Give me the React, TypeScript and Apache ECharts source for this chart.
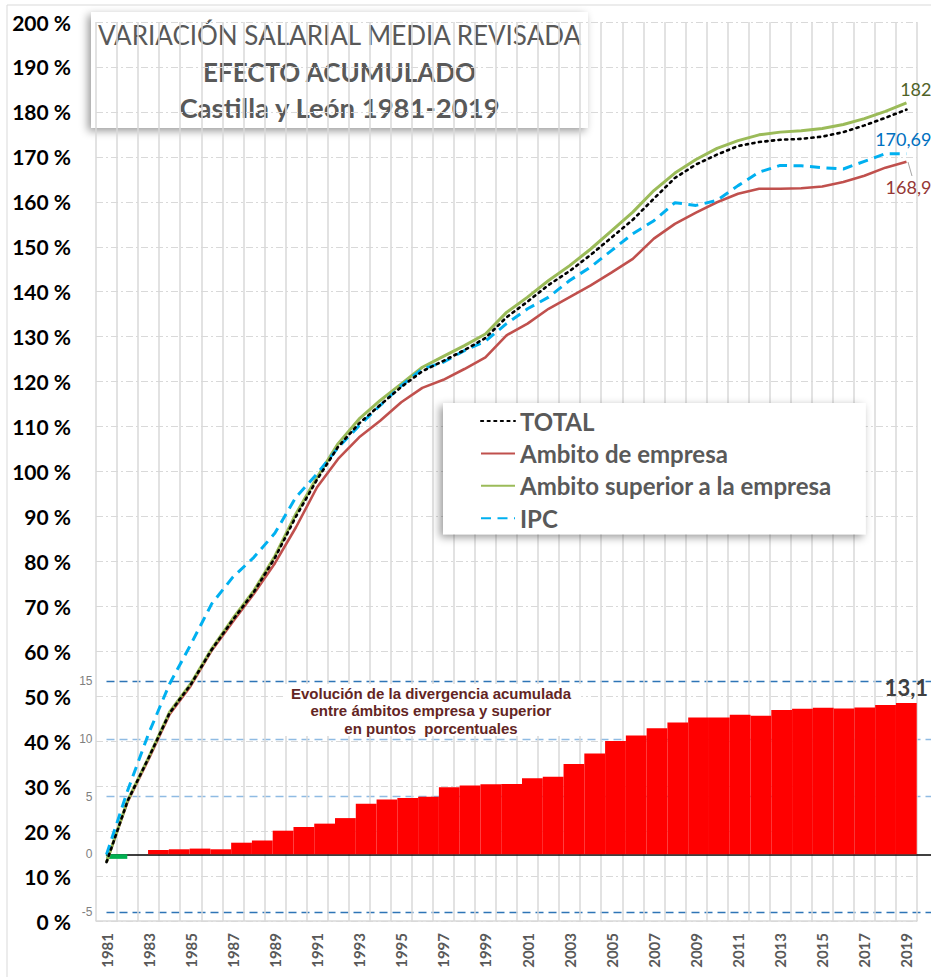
import React, { useEffect, useRef } from "react";
import * as echarts from "echarts";

const years = [
  "1981","1982","1983","1984","1985","1986","1987","1988","1989","1990",
  "1991","1992","1993","1994","1995","1996","1997","1998","1999","2000",
  "2001","2002","2003","2004","2005","2006","2007","2008","2009","2010",
  "2011","2012","2013","2014","2015","2016","2017","2018","2019",
];

const total = [
  13.1, 26.7, 36.3, 46.3, 52.6, 60.4, 67.0, 73.2, 80.8, 90.0,
  98.2, 105.5, 110.7, 114.8, 118.8, 122.3, 124.6, 127.0, 129.7, 134.3,
  137.8, 141.5, 144.6, 148.2, 152.1, 156.0, 160.7, 165.3, 168.3, 170.5,
  172.4, 173.3, 173.8, 174.0, 174.5, 175.5, 177.0, 178.7, 180.5,
];

const ambitoEmpresa = [
  13.1, 26.5, 36.0, 46.0, 52.3, 60.2, 66.6, 72.8, 79.6, 87.6,
  96.5, 102.8, 107.6, 111.3, 115.4, 118.6, 120.4, 122.8, 125.4, 130.3,
  132.9, 136.2, 138.8, 141.4, 144.3, 147.3, 151.8, 155.1, 157.6, 159.9,
  161.8, 162.9, 162.9, 163.0, 163.4, 164.4, 165.8, 167.6, 168.9,
];

const ambitoSuperior = [
  13.1, 26.8, 36.4, 46.5, 52.8, 60.6, 67.3, 73.5, 81.2, 90.6,
  98.7, 106.2, 111.7, 115.8, 119.5, 123.2, 125.6, 128.0, 130.6, 135.4,
  138.8, 142.5, 145.8, 149.5, 153.6, 157.7, 162.5, 166.4, 169.4, 171.9,
  173.6, 174.9, 175.5, 175.8, 176.3, 177.2, 178.5, 180.1, 182,
];

const ipc = [
  14.8, 29.0, 41.7, 52.8, 61.5, 70.6, 76.5, 80.9, 86.3, 94.3,
  99.5, 105.3, 110.2, 114.7, 119.1, 122.8, 124.3, 126.9, 129.0, 132.9,
  136.2, 138.8, 142.5, 145.5, 149.2, 152.9, 155.8, 159.8, 159.2, 160.3,
  163.6, 166.6, 168.1, 168.0, 167.6, 167.3, 169.0, 170.7, 170.69,
];

const divergencia = [
  -0.4, 0, 0.37, 0.43, 0.49, 0.43, 1.0, 1.2, 2.04, 2.36,
  2.65, 3.13, 4.37, 4.74, 4.86, 4.97, 5.8, 5.95, 6.06, 6.09,
  6.58, 6.7, 7.82, 8.72, 9.8, 10.28, 10.9, 11.4, 11.85, 11.85,
  12.08, 12.0, 12.48, 12.6, 12.68, 12.62, 12.7, 12.93, 13.1,
];

const titleLines = ["VARIACIÓN SALARIAL MEDIA REVISADA", "EFECTO ACUMULADO", "Castilla y León 1981-2019"];
const insetTitle = "Evolución de la divergencia acumulada\nentre ámbitos empresa y superior\nen puntos  porcentuales";

const FONT = "Lato";
const fmtComma = (v: number) => String(v).replace(".", ",");

export default function App() {
  const ref = useRef<HTMLDivElement>(null);
  useEffect(() => {
    if (!ref.current) return;
    const chart = echarts.init(ref.current, null, { renderer: "svg" });
    const barCats = [...years, ""];
    const barData = divergencia.map((v, i) => {
      const item: any = {
        value: v,
        itemStyle: { color: v < 0 ? "#00b050" : "#ff0000" },
      };
      if (i === divergencia.length - 1) {
        item.label = {
          show: true,
          position: "top",
          distance: 4,
          formatter: (p: any) => fmtComma(p.value),
          fontFamily: FONT,
          fontWeight: "bold",
          fontSize: 22,
          color: "#404040",
        };
      }
      return item;
    });

    const lineBase = {
      type: "line",
      xAxisIndex: 0,
      yAxisIndex: 0,
      symbol: "none",
      smooth: false,
      z: 5,
    };

    const endLabel = (color: string, dy: number) => ({
      show: true,
      formatter: (p: any) => fmtComma(p.value),
      align: "right",
      offset: [17, dy],
      fontFamily: FONT,
      fontSize: 18,
      color,
    });

    chart.setOption({
      animation: false,
      backgroundColor: "#ffffff",
      textStyle: { fontFamily: FONT },
      grid: [
        { left: 96, top: 22, width: 821, height: 899, outerBoundsMode: "none" },
        { left: 106.5, top: 681, width: 831, height: 231, outerBoundsMode: "none" },
      ],
      xAxis: [
        {
          type: "category",
          gridIndex: 0,
          data: years,
          boundaryGap: true,
          axisLine: { show: true, lineStyle: { color: "#d9d9d9", width: 1.5 } },
          axisTick: { show: false },
          axisLabel: {
            interval: 1,
            rotate: 90,
            margin: 12,
            fontFamily: FONT,
            fontWeight: "bold",
            fontSize: 15,
            color: "#595959",
          },
          splitLine: { show: true, interval: 0, lineStyle: { color: "#d9d9d9", width: 1.5 } },
        },
        {
          type: "category",
          gridIndex: 1,
          data: barCats,
          boundaryGap: true,
          axisLine: { show: true, onZero: true, lineStyle: { color: "#000000", width: 1.5 } },
          axisTick: { show: false },
          axisLabel: { show: false },
          splitLine: { show: false },
        },
      ],
      yAxis: [
        {
          type: "value",
          gridIndex: 0,
          min: 0,
          max: 200,
          interval: 10,
          axisLine: { show: false },
          axisTick: { show: false },
          axisLabel: {
            formatter: "{value} %",
            margin: 25,
            fontFamily: FONT,
            fontWeight: "bold",
            fontSize: 21,
            color: "#000000",
          },
          splitLine: { show: true, lineStyle: { color: "#d9d9d9", width: 1, type: [7, 3, 2, 3] } },
        },
        {
          type: "value",
          gridIndex: 1,
          min: -5,
          max: 15,
          interval: 5,
          axisLine: { show: false },
          axisTick: { show: false },
          axisLabel: {
            margin: 14,
            fontFamily: "Liberation Sans",
            fontSize: 12,
            color: "#7f7f7f",
          },
          splitLine: {
            show: true,
            lineStyle: {
              color: ["#2e75b6", "rgba(0,0,0,0)", "#8fbbe3", "#8fbbe3", "#2e75b6"],
              width: 1.4,
              type: [8, 5],
            },
          },
        },
      ],
      legend: {
        orient: "vertical",
        left: 443,
        top: 403,
        padding: [6, 34, 4, 37],
        itemWidth: 34,
        itemHeight: 14,
        itemGap: 8.4,
        itemStyle: { opacity: 0 },
        backgroundColor: "#ffffff",
        shadowBlur: 8,
        shadowColor: "rgba(0,0,0,0.4)",
        shadowOffsetX: -3,
        shadowOffsetY: 3,
        data: ["TOTAL", "Ambito de empresa", "Ambito superior a la empresa", "IPC"],
        textStyle: {
          fontFamily: FONT,
          fontWeight: "bold",
          fontSize: 24,
          lineHeight: 22,
          color: "#595959",
        },
      },
      graphic: [
        {
          type: "rect",
          silent: true,
          z: -10,
          shape: { x: 7, y: 5, width: 1000, height: 1000 },
          style: { fill: "none", stroke: "#d9d9d9", lineWidth: 1 },
        },
        {
          type: "group",
          z: 20,
          children: [
            {
              type: "rect",
              shape: { x: 91, y: 12, width: 497, height: 116 },
              style: {
                fill: "#ffffff",
                shadowBlur: 8,
                shadowColor: "rgba(0,0,0,0.4)",
                shadowOffsetX: -3,
                shadowOffsetY: 3,
              },
            },
            {
              type: "text",
              x: 339.5,
              y: 35,
              style: {
                text: titleLines[0],
                fontFamily: FONT,
                fontSize: 26,
                fill: "#595959",
                align: "center",
                verticalAlign: "middle",
              },
            },
            {
              type: "text",
              x: 339.5,
              y: 72,
              style: {
                text: titleLines[1],
                fontFamily: FONT,
                fontWeight: "bold",
                fontSize: 26,
                fill: "#595959",
                align: "center",
                verticalAlign: "middle",
              },
            },
            {
              type: "text",
              x: 339.5,
              y: 107,
              style: {
                text: titleLines[2],
                fontFamily: FONT,
                fontWeight: "bold",
                fontSize: 27.5,
                fill: "#595959",
                align: "center",
                verticalAlign: "middle",
              },
            },
          ],
        },
        {
          type: "group",
          z: 20,
          children: [
            {
              type: "rect",
              z: 20,
              shape: { x: 283, y: 684, width: 298, height: 52 },
              style: { fill: "#ffffff" },
            },
            {
              type: "text",
              z: 21,
              x: 431,
              y: 710.5,
              style: {
                text: insetTitle,
                fontFamily: "Liberation Sans",
                fontWeight: "bold",
                fontSize: 15,
                lineHeight: 17.5,
                fill: "#632523",
                align: "center",
                verticalAlign: "middle",
              },
            },
          ],
        },
        {
          type: "line",
          z: 6,
          shape: { x1: 908, y1: 162, x2: 912, y2: 176 },
          style: { stroke: "#a6a6a6", lineWidth: 1 },
        },
      ],
      series: [
        {
          type: "bar",
          name: "Divergencia",
          xAxisIndex: 1,
          yAxisIndex: 1,
          data: barData,
          barCategoryGap: "0%",
          z: 2,
        },
        {
          ...lineBase,
          name: "TOTAL",
          data: total,
          lineStyle: { color: "#000000", width: 2.6, type: [2.2, 4.4], cap: "round" },
          itemStyle: { color: "#000000" },
          z: 7,
        },
        {
          ...lineBase,
          name: "Ambito de empresa",
          data: ambitoEmpresa,
          lineStyle: { color: "#c0504d", width: 2.6 },
          itemStyle: { color: "#c0504d" },
          endLabel: endLabel("#953735", 25),
        },
        {
          ...lineBase,
          name: "Ambito superior a la empresa",
          data: ambitoSuperior,
          lineStyle: { color: "#9bbb59", width: 3 },
          itemStyle: { color: "#9bbb59" },
          endLabel: endLabel("#4f6228", -14),
        },
        {
          ...lineBase,
          name: "IPC",
          data: ipc,
          lineStyle: { color: "#00b0f0", width: 3, type: [10, 6.5] },
          itemStyle: { color: "#00b0f0" },
          endLabel: endLabel("#0070c0", -15),
        },
      ],
    });
    return () => chart.dispose();
  }, []);
  return (
    <div
      ref={ref}
      style={{ position: "absolute", left: 0, top: 0, width: 931, height: 977 }}
    />
  );
}
